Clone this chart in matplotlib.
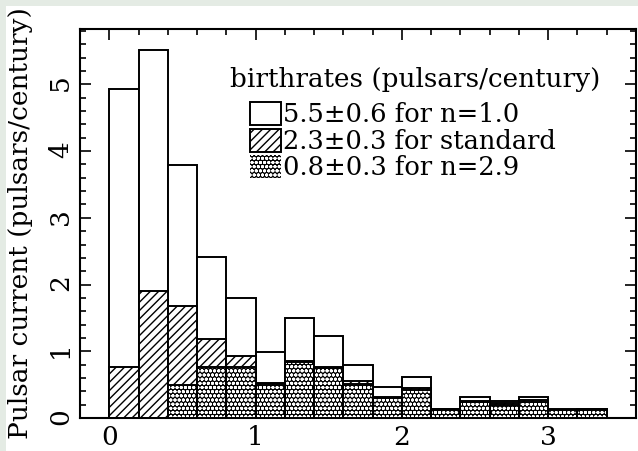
import numpy as np
import matplotlib
matplotlib.use("Agg")
import matplotlib.pyplot as plt
from matplotlib.patches import Rectangle, Patch
from matplotlib.ticker import MultipleLocator

# ---- data ----
bin_left = [0.0, 0.2, 0.4, 0.6, 0.8, 1.0, 1.2, 1.4, 1.6, 1.8, 2.0, 2.2, 2.4, 2.6, 2.8, 3.0, 3.2]
bin_width = 0.2
current_n10 = [4.93, 5.51, 3.79, 2.41, 1.80, 0.99, 1.50, 1.23, 0.80, 0.47, 0.61, 0.13, 0.32, 0.25, 0.32, 0.13, 0.14]
current_std = [0.77, 1.91, 1.68, 1.18, 0.93, 0.52, 0.86, 0.77, 0.55, 0.32, 0.45, 0.13, 0.26, 0.22, 0.27, 0.12, 0.13]
current_n29 = [0.0, 0.0, 0.50, 0.76, 0.76, 0.51, 0.835, 0.745, 0.51, 0.30, 0.42, 0.12, 0.24, 0.20, 0.24, 0.12, 0.12]
legend_title = "birthrates (pulsars/century)"
labels = ["5.5±0.6 for n=1.0", "2.3±0.3 for standard", "0.8±0.3 for n=2.9"]
ylabel = "Pulsar current (pulsars/century)"
xticks = [0, 1, 2, 3]
yticks = [0, 1, 2, 3, 4, 5]

plt.rcParams['font.family'] = ['DejaVu Serif']
plt.rcParams['hatch.linewidth'] = 1.0

FS = 19

fig = plt.figure(figsize=(6.38, 4.51), dpi=100)
fig.patch.set_facecolor('#e4ebe4')
bg = Rectangle((6/638, 0), 1, 1 - 6/451, transform=fig.transFigure,
               facecolor='white', edgecolor='none', zorder=-10)
fig.patches.append(bg)
ax = fig.add_axes([80/638, 1 - 418/451, (636-80)/638, (418-29)/451])

lw = 1.4
ax.bar(bin_left, current_n10, width=bin_width, align='edge',
       facecolor='white', edgecolor='black', linewidth=lw, zorder=2)
ax.bar(bin_left, current_std, width=bin_width, align='edge',
       facecolor='white', edgecolor='black', hatch='////', linewidth=lw, zorder=3)
ax.bar(bin_left, current_n29, width=bin_width, align='edge',
       facecolor='black', edgecolor='white', hatch='oooo', linewidth=0, zorder=4)
ax.bar(bin_left, current_n29, width=bin_width, align='edge',
       fill=False, edgecolor='black', linewidth=lw, zorder=5)

ax.set_xlim(-0.2, 3.6)
ax.set_ylim(0, 5.83)
ax.set_xticks(xticks)
ax.set_yticks(yticks)
ax.xaxis.set_minor_locator(MultipleLocator(0.2))
ax.yaxis.set_minor_locator(MultipleLocator(0.2))
ax.tick_params(which='both', direction='in', top=True, right=True, width=1.2, labelsize=FS)
ax.tick_params(which='major', length=8)
ax.tick_params(which='minor', length=4)
ax.tick_params(axis='y', labelrotation=90, pad=5)
ax.tick_params(axis='x', pad=5)
for s in ax.spines.values():
    s.set_linewidth(1.5)
ax.set_ylabel(ylabel, fontsize=FS, labelpad=11)

ax.text((230-80)/556, (418-80)/389, legend_title, transform=ax.transAxes,
        ha='left', va='center', fontsize=18.9, zorder=6)

h1 = Patch(facecolor='white', edgecolor='black', linewidth=lw)
h2 = Patch(facecolor='white', edgecolor='black', hatch='////', linewidth=lw)
h3 = Patch(facecolor='black', edgecolor='white', hatch='oooo', linewidth=0)
leg = ax.legend([h1, h2, h3], labels, loc='upper left',
                bbox_to_anchor=((250-80)/556, (418-102)/389), frameon=False, fontsize=18.5,
                handlelength=1.2, handleheight=1.0,
                handletextpad=0.1, labelspacing=0.05, borderpad=0.0,
                borderaxespad=0.0)

fig.savefig("out.png", dpi=100, facecolor=fig.get_facecolor())
